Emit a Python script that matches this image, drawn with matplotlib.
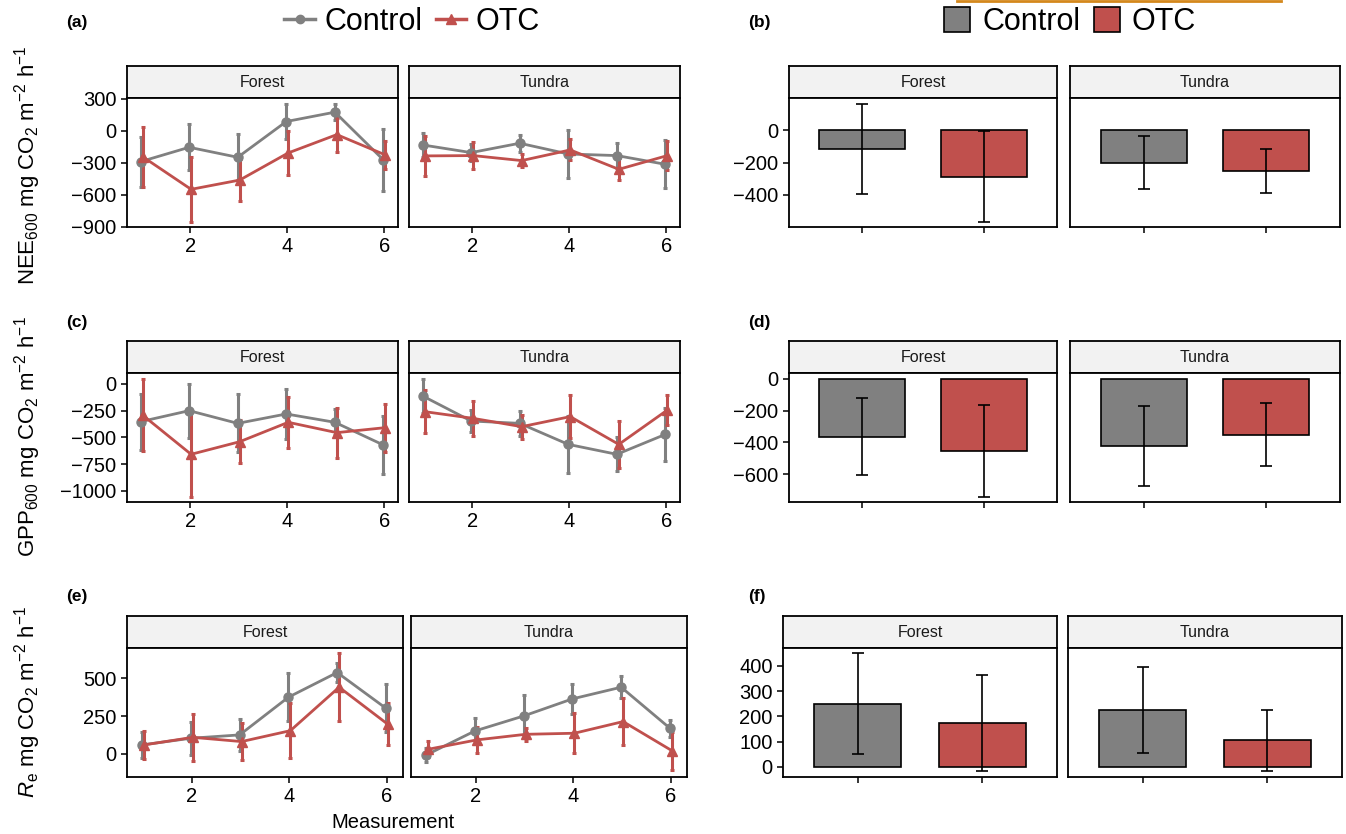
import matplotlib
matplotlib.use("Agg")
import matplotlib.pyplot as plt
from matplotlib.lines import Line2D
from matplotlib.patches import Patch

plt.rcParams['font.family'] = ['Liberation Sans', 'DejaVu Sans']
plt.rcParams['mathtext.fontset'] = 'custom'
plt.rcParams['mathtext.rm'] = 'Liberation Sans'
plt.rcParams['mathtext.it'] = 'Liberation Sans:italic'

# datos de las mediciones (1..6)
meas = [1, 2, 3, 4, 5, 6]
sites = ["Forest", "Tundra"]

nee_forest_ctrl = [-289, -154, -248, 88, 176, -273]
nee_forest_ctrl_se = [235, 217, 217, 168, 75, 289]
nee_forest_otc = [-242, -549, -462, -207, -35, -226]
nee_forest_otc_se = [283, 306, 200, 207, 160, 128]
nee_tundra_ctrl = [-132, -204, -116, -217, -232, -314]
nee_tundra_ctrl_se = [116, 80, 81, 228, 121, 225]
nee_tundra_otc = [-235, -232, -279, -179, -361, -232]
nee_tundra_otc_se = [190, 123, 58, 99, 102, 138]

gpp_forest_ctrl = [-353, -250, -369, -281, -359, -572]
gpp_forest_ctrl_se = [261, 252, 273, 237, 122, 268]
gpp_forest_otc = [-291, -659, -541, -359, -456, -409]
gpp_forest_otc_se = [336, 397, 203, 237, 235, 226]
gpp_tundra_ctrl = [-112, -347, -369, -566, -659, -472]
gpp_tundra_ctrl_se = [156, 105, 115, 270, 160, 250]
gpp_tundra_otc = [-259, -322, -400, -306, -566, -244]
gpp_tundra_otc_se = [203, 161, 113, 200, 219, 137]

re_forest_ctrl = [60, 104, 126, 375, 538, 302]
re_forest_ctrl_se = [87, 110, 103, 160, 65, 157]
re_forest_otc = [60, 110, 82, 154, 441, 196]
re_forest_otc_se = [93, 154, 120, 181, 226, 138]
re_tundra_ctrl = [-7, 152, 251, 364, 441, 170]
re_tundra_ctrl_se = [44, 83, 137, 97, 74, 55]
re_tundra_otc = [31, 93, 130, 137, 214, 22]
re_tundra_otc_se = [53, 88, 44, 132, 154, 125]

# medias totales (Control, OTC)
treatments = ["Control", "OTC"]
nee_bar_forest = [-117, -287]
nee_bar_forest_se = [275, 280]
nee_bar_tundra = [-201, -250]
nee_bar_tundra_se = [162, 135]
gpp_bar_forest = [-364, -455]
gpp_bar_forest_se = [243, 289]
gpp_bar_tundra = [-423, -352]
gpp_bar_tundra_se = [253, 198]
re_bar_forest = [250, 175]
re_bar_forest_se = [200, 190]
re_bar_tundra = [226, 105]
re_bar_tundra_se = [170, 122]

GRIS = "#808080"
ROJO = "#C0504D"
W, H = 1346, 834

fig = plt.figure(figsize=(W / 100, H / 100), dpi=100)


def px_axes(x0, y0, x1, y1):
    return fig.add_axes([x0 / W, 1 - y1 / H, (x1 - x0) / W, (y1 - y0) / H])


def strip(x0, y0, x1, y1, texto):
    ax = px_axes(x0, y0, x1, y1)
    ax.set_facecolor("#F2F2F2")
    ax.set_xticks([])
    ax.set_yticks([])
    for s in ax.spines.values():
        s.set_linewidth(1.3)
    ax.text(0.5, 0.48, texto, ha="center", va="center", fontsize=11.5, color="#1A1A1A",
            transform=ax.transAxes)


def estilo(ax, yticks, ylim, mostrar_y):
    ax.set_ylim(*ylim)
    ax.set_yticks(yticks)
    for s in ax.spines.values():
        s.set_linewidth(1.3)
    ax.tick_params(direction="out", length=4, width=1.1, labelsize=14.5, colors="black")
    if not mostrar_y:
        ax.tick_params(axis="y", left=False, labelleft=False)


def panel_lineas(box, ctrl, ctrl_se, otc, otc_se, yticks, ylim, xlim, mostrar_y):
    ax = px_axes(*box)
    xc = [m - 0.02 for m in meas]
    xo = [m + 0.02 for m in meas]
    ax.errorbar(xc, ctrl, yerr=ctrl_se, color=GRIS, lw=2, marker="o", ms=6.5,
                elinewidth=2.2, capsize=1.6, capthick=2.2)
    ax.errorbar(xo, otc, yerr=otc_se, color=ROJO, lw=2, marker="^", ms=7,
                elinewidth=2.2, capsize=1.6, capthick=2.2)
    ax.set_xlim(*xlim)
    ax.set_xticks([2, 4, 6])
    estilo(ax, yticks, ylim, mostrar_y)
    return ax


def panel_barras(box, medias, se, yticks, ylim, mostrar_y):
    ax = px_axes(*box)
    ax.bar([1, 2], medias, width=0.7, color=[GRIS, ROJO], edgecolor="black", linewidth=1.2)
    ax.errorbar([1, 2], medias, yerr=se, fmt="none", ecolor="black", elinewidth=1.2,
                capsize=4.5, capthick=1.2)
    ax.set_xlim(0.4, 2.6)
    ax.set_xticks([1, 2])
    ax.set_xticklabels([])
    estilo(ax, yticks, ylim, mostrar_y)
    return ax


# fila (a)/(b): NEE
xl_ac = (0.70, 6.28)
xl_e = (0.67, 6.33)
strip(127, 66, 398, 98, "Forest")
strip(409, 66, 680, 98, "Tundra")
panel_lineas((127, 98, 398, 227), nee_forest_ctrl, nee_forest_ctrl_se, nee_forest_otc, nee_forest_otc_se,
             [300, 0, -300, -600, -900], (-903, 309), xl_ac, True)
panel_lineas((409, 98, 680, 227), nee_tundra_ctrl, nee_tundra_ctrl_se, nee_tundra_otc, nee_tundra_otc_se,
             [300, 0, -300, -600, -900], (-903, 309), xl_ac, False)
strip(789, 66, 1057, 98, "Forest")
strip(1070, 66, 1340, 98, "Tundra")
panel_barras((789, 98, 1057, 227), nee_bar_forest, nee_bar_forest_se, [0, -200, -400], (-597, 197), True)
panel_barras((1070, 98, 1340, 227), nee_bar_tundra, nee_bar_tundra_se, [0, -200, -400], (-597, 197), False)

# fila (c)/(d): GPP
strip(127, 341, 398, 373, "Forest")
strip(409, 341, 680, 373, "Tundra")
panel_lineas((127, 373, 398, 502), gpp_forest_ctrl, gpp_forest_ctrl_se, gpp_forest_otc, gpp_forest_otc_se,
             [0, -250, -500, -750, -1000], (-1106, 103), xl_ac, True)
panel_lineas((409, 373, 680, 502), gpp_tundra_ctrl, gpp_tundra_ctrl_se, gpp_tundra_otc, gpp_tundra_otc_se,
             [0, -250, -500, -750, -1000], (-1106, 103), xl_ac, False)
strip(789, 341, 1057, 373, "Forest")
strip(1070, 341, 1340, 373, "Tundra")
panel_barras((789, 373, 1057, 502), gpp_bar_forest, gpp_bar_forest_se, [0, -200, -400, -600], (-775, 36), True)
panel_barras((1070, 373, 1340, 502), gpp_bar_tundra, gpp_bar_tundra_se, [0, -200, -400, -600], (-775, 36), False)

# fila (e)/(f): Re
strip(127, 616, 403, 648, "Forest")
strip(411, 616, 687, 648, "Tundra")
panel_lineas((127, 648, 403, 777), re_forest_ctrl, re_forest_ctrl_se, re_forest_otc, re_forest_otc_se,
             [0, 250, 500], (-152, 700), xl_e, True)
panel_lineas((411, 648, 687, 777), re_tundra_ctrl, re_tundra_ctrl_se, re_tundra_otc, re_tundra_otc_se,
             [0, 250, 500], (-152, 700), xl_e, False)
strip(783, 616, 1057, 648, "Forest")
strip(1068, 616, 1342, 648, "Tundra")
panel_barras((783, 648, 1057, 777), re_bar_forest, re_bar_forest_se, [0, 100, 200, 300, 400], (-40, 471), True)
panel_barras((1068, 648, 1342, 777), re_bar_tundra, re_bar_tundra_se, [0, 100, 200, 300, 400], (-40, 471), False)

# etiquetas de los ejes
fig.text(28 / W, 1 - 165 / H, r"NEE$_{600}$ mg CO$_2$ m$^{-2}$ h$^{-1}$", rotation=90,
         ha="center", va="center", fontsize=16)
fig.text(28 / W, 1 - 437 / H, r"GPP$_{600}$ mg CO$_2$ m$^{-2}$ h$^{-1}$", rotation=90,
         ha="center", va="center", fontsize=16)
fig.text(28 / W, 1 - 702 / H, r"$R_\mathrm{e}$ mg CO$_2$ m$^{-2}$ h$^{-1}$", rotation=90,
         ha="center", va="center", fontsize=16)
fig.text(393 / W, 1 - 822 / H, "Measurement", ha="center", va="center", fontsize=14.5)

# letras de los paneles
for letra, x, y in [("(a)", 66, 22), ("(b)", 748, 22), ("(c)", 66, 322),
                    ("(d)", 748, 322), ("(e)", 66, 597), ("(f)", 748, 597)]:
    fig.text(x / W, 1 - y / H, letra, ha="left", va="center", fontsize=12.5, fontweight="bold")

# leyendas
h_lin = [Line2D([], [], color=GRIS, lw=2.5, marker="o", ms=6),
         Line2D([], [], color=ROJO, lw=2.5, marker="^", ms=7)]
fig.legend(h_lin, treatments, loc="center", bbox_to_anchor=(412 / W, 1 - 22 / H), ncol=2,
           frameon=False, fontsize=22, handlelength=1.0, handletextpad=0.3, columnspacing=0.45,
           borderpad=0)
h_bar = [Patch(facecolor=GRIS, edgecolor="black", lw=1.2),
         Patch(facecolor=ROJO, edgecolor="black", lw=1.2)]
fig.legend(h_bar, treatments, loc="center", bbox_to_anchor=(1070 / W, 1 - 22 / H), ncol=2,
           frameon=False, fontsize=22, handlelength=0.85, handleheight=0.85, handletextpad=0.4,
           columnspacing=0.45, borderpad=0)

# linea naranja en el borde superior
fig.add_artist(Line2D([957 / W, 1281 / W], [1 - 1 / H, 1 - 1 / H], color="#D4881C", lw=2))

fig.savefig("out.png", dpi=100)
